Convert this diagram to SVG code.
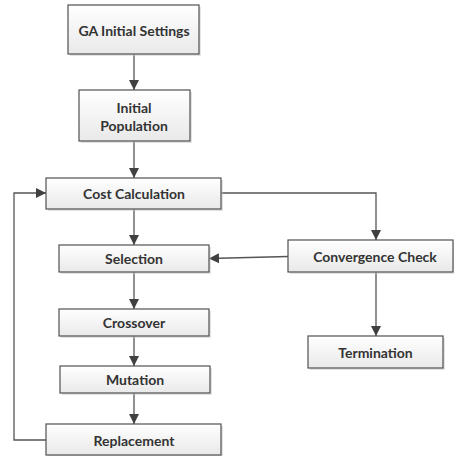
<svg xmlns="http://www.w3.org/2000/svg" width="454" height="456" viewBox="0 0 454 456">
  <style>
    .box { fill: url(#boxFill); stroke: #505050; stroke-width: 1.2; }
    .shadow { fill: #c8c8c8; opacity: 0.5; }
    .label { font-family: "Lato", "Liberation Sans", sans-serif; font-weight: bold; font-size: 14px; fill: #333333; text-anchor: middle; dominant-baseline: central; }
    .edge { fill: none; stroke: #555555; stroke-width: 1.3; }
  </style>
  <defs>
    <linearGradient id="boxFill" x1="0" y1="0" x2="0" y2="1">
      <stop offset="0" stop-color="#ffffff"/>
      <stop offset="1" stop-color="#e9e9e9"/>
    </linearGradient>
    <marker id="arrow" viewBox="0 0 10 10" refX="10" refY="5" markerWidth="10" markerHeight="10" markerUnits="userSpaceOnUse" orient="auto">
      <path d="M0,0 L10,5 L0,10 z" fill="#404040"/>
    </marker>
  </defs>

  <!-- connectors -->
  <g id="connectors">
    <path class="edge" d="M134,54 V90" marker-end="url(#arrow)"/>
    <path class="edge" d="M134,141 V178" marker-end="url(#arrow)"/>
    <path class="edge" d="M134,209 V245" marker-end="url(#arrow)"/>
    <path class="edge" d="M134,272 V309" marker-end="url(#arrow)"/>
    <path class="edge" d="M134,336 V366" marker-end="url(#arrow)"/>
    <path class="edge" d="M134,393 V424" marker-end="url(#arrow)"/>
    <path class="edge" d="M46,440 H14 V193 H46" marker-end="url(#arrow)"/>
    <path class="edge" d="M221,193 H376 V240" marker-end="url(#arrow)"/>
    <path class="edge" d="M288,256.5 L209,258.5" marker-end="url(#arrow)"/>
    <path class="edge" d="M376,272 V336" marker-end="url(#arrow)"/>
  </g>

  <g id="ga-initial-settings">
    <rect class="shadow" x="70" y="7" width="131" height="49"/>
    <rect class="box" x="68" y="5" width="131" height="49"/>
    <text class="label" x="134" y="30">GA Initial Settings</text>
  </g>

  <g id="initial-population">
    <rect class="shadow" x="81" y="92" width="111" height="51"/>
    <rect class="box" x="79" y="90" width="111" height="51"/>
    <text class="label" x="134" y="107">Initial</text>
    <text class="label" x="134" y="125">Population</text>
  </g>

  <g id="cost-calculation">
    <rect class="shadow" x="48" y="180" width="175" height="31"/>
    <rect class="box" x="46" y="178" width="175" height="31"/>
    <text class="label" x="134" y="193.5">Cost Calculation</text>
  </g>

  <g id="selection">
    <rect class="shadow" x="61" y="247" width="150" height="27"/>
    <rect class="box" x="59" y="245" width="150" height="27"/>
    <text class="label" x="134" y="258.5">Selection</text>
  </g>

  <g id="crossover">
    <rect class="shadow" x="61" y="311" width="150" height="27"/>
    <rect class="box" x="59" y="309" width="150" height="27"/>
    <text class="label" x="134" y="322.5">Crossover</text>
  </g>

  <g id="mutation">
    <rect class="shadow" x="62" y="368" width="150" height="27"/>
    <rect class="box" x="60" y="366" width="150" height="27"/>
    <text class="label" x="135" y="379.5">Mutation</text>
  </g>

  <g id="replacement">
    <rect class="shadow" x="48" y="426" width="175" height="31"/>
    <rect class="box" x="46" y="424" width="175" height="31"/>
    <text class="label" x="134" y="440">Replacement</text>
  </g>

  <g id="convergence-check">
    <rect class="shadow" x="290" y="242" width="165" height="32"/>
    <rect class="box" x="288" y="240" width="165" height="32"/>
    <text class="label" x="375" y="256">Convergence Check</text>
  </g>

  <g id="termination">
    <rect class="shadow" x="310" y="338" width="135" height="32"/>
    <rect class="box" x="308" y="336" width="135" height="32"/>
    <text class="label" x="375.5" y="352">Termination</text>
  </g>
</svg>
